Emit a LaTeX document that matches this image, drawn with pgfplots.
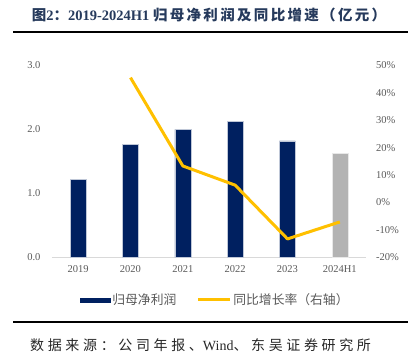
\documentclass[border=0pt]{standalone}
\usepackage{fontspec}
\usepackage{pgfplots}
\pgfplotsset{compat=1.18}
\setmainfont{Liberation Serif}
\newfontfamily\cjk{Noto Sans CJK SC}
\newfontfamily\cjkt[LetterSpace=16]{Noto Sans CJK SC}
\newfontfamily\cjksp[LetterSpace=26]{Noto Sans CJK SC}
\definecolor{navy}{RGB}{0,32,96}
\definecolor{gold}{RGB}{255,192,0}
\definecolor{barg}{RGB}{179,179,179}
\definecolor{tickg}{RGB}{89,89,89}
\definecolor{titlec}{RGB}{38,58,92}
\begin{document}
\begin{tikzpicture}
\path[use as bounding box] (0pt,0pt) rectangle (416pt,358pt);
\node[anchor=center, inner sep=0pt, text=black] at (210.5pt,326pt) {\rule{395pt}{2pt}};
\node[anchor=center, inner sep=0pt, text=black] at (210.5pt,35.5pt) {\rule{395pt}{2pt}};
\node[anchor=center, text=titlec, font=\fontsize{14.5}{17}\selectfont\bfseries, inner sep=0pt] at (209pt,343pt)
  {{\cjkt\bfseries 图}2{\cjkt\bfseries ：}2019-2024H1 {\cjkt\bfseries 归母净利润及同比增速（亿元）}};
\node[anchor=west, text=black!85, font=\fontsize{14}{16}\selectfont, inner sep=0pt] at (30pt,13pt)
  {{\cjksp 数据来源：公司年报、}Wind{\cjksp 、东吴证券研究所}};

\begin{axis}[at={(52pt,100.7pt)}, anchor=south west, scale only axis,
  width=314pt, height=192pt,
  xmin=-0.5, xmax=5.5, ymin=0, ymax=3,
  xtick={0,1,2,3,4,5}, xticklabels={2019,2020,2021,2022,2023,2024H1},
  ytick={0,1,2,3},
  yticklabel={\pgfmathprintnumber[fixed,fixed zerofill,precision=1]{\tick}},
  /pgf/number format/assume math mode=true,
  axis x line*=bottom, axis y line*=left,
  y axis line style={draw=none},
  x axis line style={-, draw=black!15, line width=0.8pt},
  major tick length=0pt,
  tick label style={font=\fontsize{10.5}{12}\selectfont, text=tickg},
  yticklabel style={xshift=-8pt},
  xticklabel style={yshift=-5pt},
  clip=false]
\addplot[ybar, bar width=16pt, bar shift=0pt, fill=navy, draw=white!75!navy, line width=0.4pt]
  coordinates {(0,1.22) (1,1.77) (2,2.00) (3,2.12) (4,1.82)};
\addplot[ybar, bar width=16pt, bar shift=0pt, fill=barg, draw=white!70!barg, line width=0.4pt]
  coordinates {(5,1.62)};
\end{axis}

\begin{axis}[at={(52pt,100.7pt)}, anchor=south west, scale only axis,
  width=314pt, height=192pt,
  xmin=-0.5, xmax=5.5, ymin=-20, ymax=50,
  ytick={-20,-10,0,10,20,30,40,50},
  yticklabel={\pgfmathprintnumber{\tick}\%},
  /pgf/number format/assume math mode=true,
  axis y line*=right, axis x line=none,
  y axis line style={draw=none},
  major tick length=0pt,
  tick label style={font=\fontsize{10.5}{12}\selectfont, text=tickg},
  yticklabel style={xshift=6.5pt},
  legend columns=2,
  legend style={at={(0.52,-0.222)}, anchor=center, draw=none, fill=none,
    font=\cjk\fontsize{12.8}{14}\selectfont, text=tickg,
    /tikz/every even column/.append style={column sep=18pt}},
  legend cell align=left,
  clip=false]
\addlegendimage{legend image code/.code={\fill[navy] (0pt,-2.2pt) rectangle (30pt,2.2pt);}}
\addlegendentry{归母净利润}
\addplot[gold, line width=3pt, line join=round,
  legend image code/.code={\draw[gold, line width=3pt] (0pt,0pt) -- (32pt,0pt);}]
  coordinates {(1,45.5) (2,13.3) (3,6.3) (4,-13.3) (5,-7.1)};
\addlegendentry{同比增长率（右轴）}
\end{axis}
\end{tikzpicture}
\end{document}
